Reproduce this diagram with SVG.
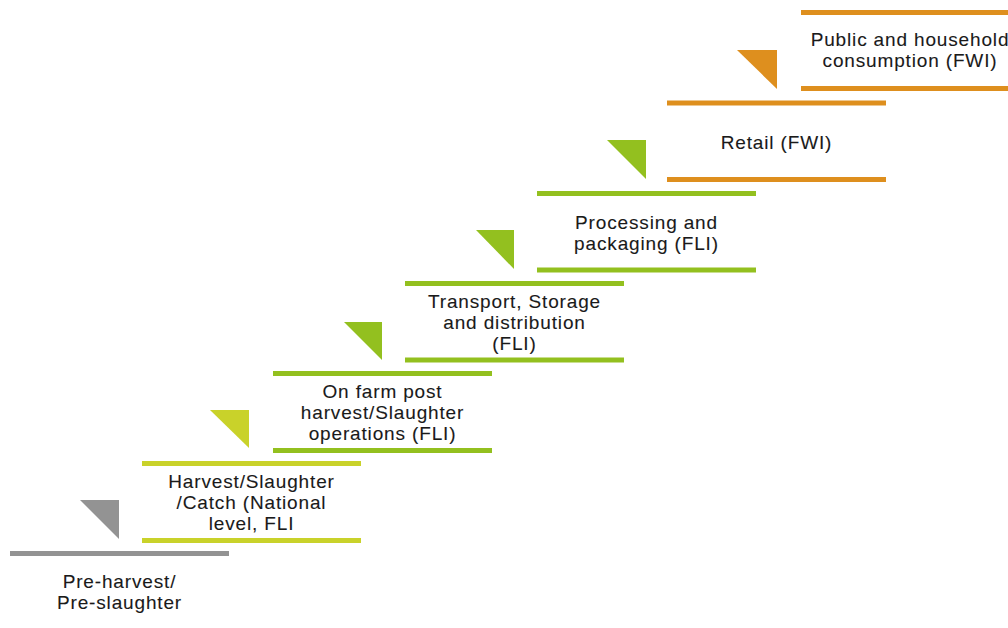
<svg xmlns="http://www.w3.org/2000/svg" width="1008" height="628" viewBox="0 0 1008 628">
  <style>
    .lbl { font-family: "Liberation Sans", Arial, sans-serif; font-size: 19px; letter-spacing: 0.85px; fill: #1a1a1a; text-anchor: middle; stroke: #1a1a1a; stroke-width: 0.1px; }
    .gray { fill: #939393; }
    .lime { fill: #c9d22a; }
    .green { fill: #93c01f; }
    .orange { fill: #de8f1e; }
  </style>
  <rect width="1008" height="628" fill="#ffffff"/>

  <!-- down-stepping arrow wedges between stages -->
  <g id="connectors">
    <polygon class="gray" points="80,500 119,500 119,539"/>
    <polygon class="lime" points="210,410 249,410 249,448"/>
    <polygon class="green" points="344,322 382,322 382,360"/>
    <polygon class="green" points="476,230 514,230 514,269"/>
    <polygon class="green" points="607,140 646,140 646,179"/>
    <polygon class="orange" points="737,50 777,50 777,89"/>
  </g>

  <g id="pre-harvest">
    <rect class="gray" x="10" y="551" width="219" height="5"/>
    <text class="lbl" x="119.5" y="588"><tspan x="119.5">Pre-harvest/</tspan><tspan x="119.5" dy="21.4">Pre-slaughter</tspan></text>
  </g>

  <g id="harvest">
    <rect class="lime" x="142" y="461" width="219" height="5"/>
    <rect class="lime" x="142" y="538" width="219" height="5"/>
    <text class="lbl" x="251.5" y="487.5"><tspan x="251.5">Harvest/Slaughter</tspan><tspan x="251.5" dy="21.4">/Catch (National</tspan><tspan x="251.5" dy="21.4">level, FLI</tspan></text>
  </g>

  <g id="on-farm">
    <rect class="green" x="273" y="371" width="219" height="5"/>
    <rect class="green" x="273" y="448" width="219" height="5"/>
    <text class="lbl" x="382.5" y="397.5"><tspan x="382.5">On farm post</tspan><tspan x="382.5" dy="21.4">harvest/Slaughter</tspan><tspan x="382.5" dy="21.4">operations (FLI)</tspan></text>
  </g>

  <g id="transport">
    <rect class="green" x="405" y="281" width="219" height="5"/>
    <rect class="green" x="405" y="357.5" width="219" height="5"/>
    <text class="lbl" x="514.5" y="307.5"><tspan x="514.5">Transport, Storage</tspan><tspan x="514.5" dy="21.4">and distribution</tspan><tspan x="514.5" dy="21.4">(FLI)</tspan></text>
  </g>

  <g id="processing">
    <rect class="green" x="537" y="191" width="219" height="5"/>
    <rect class="green" x="537" y="267.5" width="219" height="5"/>
    <text class="lbl" x="646.5" y="228.5"><tspan x="646.5">Processing and</tspan><tspan x="646.5" dy="21.4">packaging (FLI)</tspan></text>
  </g>

  <g id="retail">
    <rect class="orange" x="667" y="100.5" width="219" height="5"/>
    <rect class="orange" x="667" y="177" width="219" height="5"/>
    <text class="lbl" x="776.5" y="149">Retail (FWI)</text>
  </g>

  <g id="consumption">
    <rect class="orange" x="801" y="10" width="219" height="5"/>
    <rect class="orange" x="801" y="86" width="219" height="5"/>
    <text class="lbl" x="910" y="45.5"><tspan x="910">Public and household</tspan><tspan x="910" dy="21.4">consumption (FWI)</tspan></text>
  </g>
</svg>
